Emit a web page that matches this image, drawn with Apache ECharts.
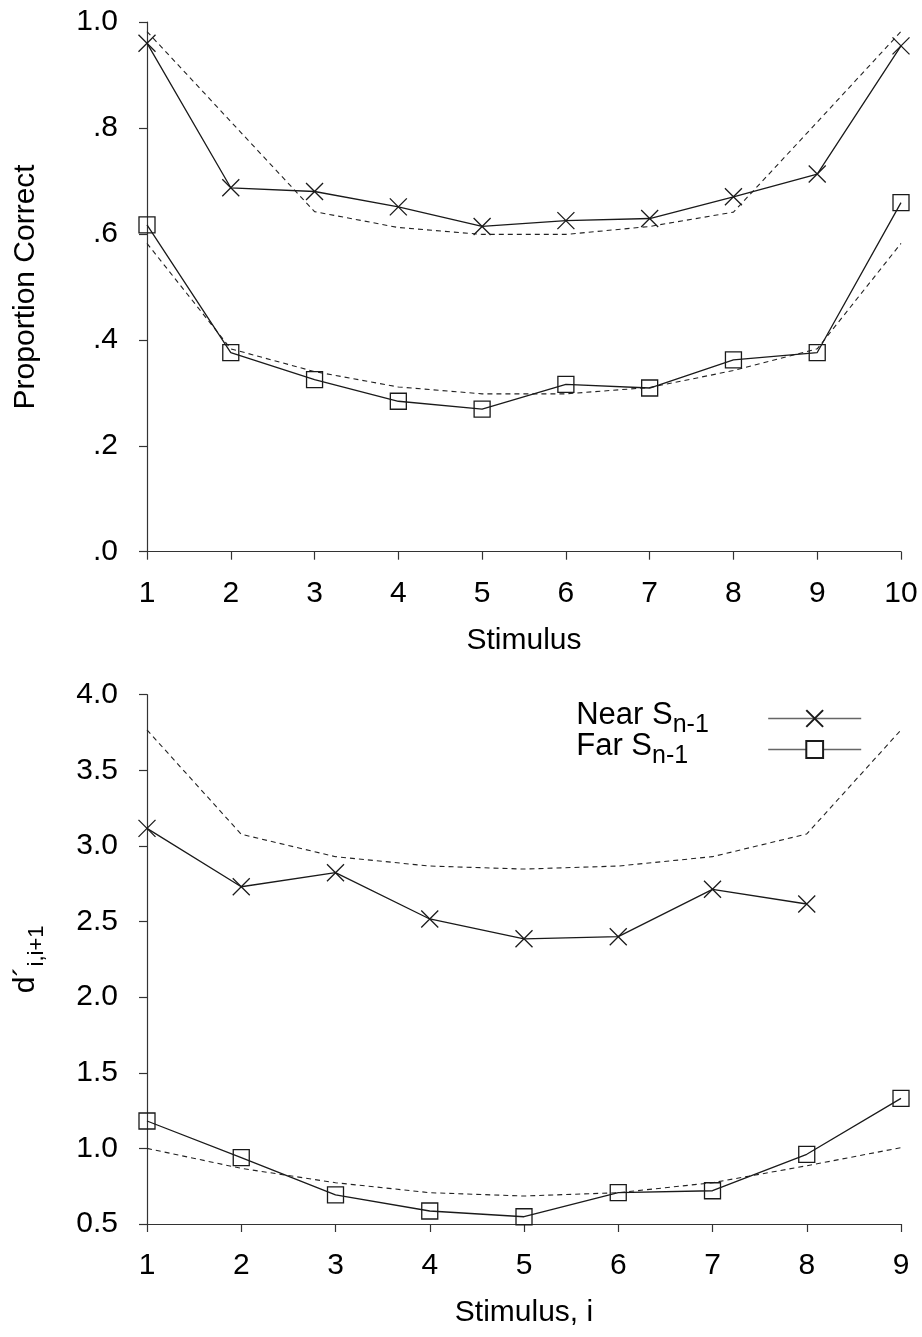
<!DOCTYPE html>
<html>
<head>
<meta charset="utf-8">
<script src="https://cdn.jsdelivr.net/npm/echarts@6/dist/echarts.min.js"></script>
<style>
html,body{margin:0;padding:0;background:#fff;}
#chart{width:922px;height:1337px;}
</style>
</head>
<body>
<div id="chart"></div>
<script>
// ---------- data ----------
const stimTop = [1, 2, 3, 4, 5, 6, 7, 8, 9, 10];
const nearTop = [0.960, 0.687, 0.680, 0.651, 0.614, 0.625, 0.629, 0.670, 0.713, 0.955];
const nearTopModel = [0.982, 0.812, 0.642, 0.612, 0.599, 0.599, 0.614, 0.641, 0.811, 0.982];
const farTop = [0.617, 0.376, 0.325, 0.284, 0.269, 0.316, 0.309, 0.362, 0.376, 0.659];
const farTopModel = [0.582, 0.383, 0.340, 0.311, 0.298, 0.298, 0.310, 0.342, 0.383, 0.582];
const topYLabels = ['.0', '.2', '.4', '.6', '.8', '1.0'];

const stimBottom = [1, 2, 3, 4, 5, 6, 7, 8, 9];
const nearBottom = [3.116, 2.730, 2.823, 2.517, 2.386, 2.400, 2.713, 2.616];
const nearBottomModel = [3.767, 3.077, 2.929, 2.867, 2.847, 2.867, 2.929, 3.079, 3.767];
const farBottom = [1.181, 0.939, 0.692, 0.586, 0.548, 0.707, 0.720, 0.961, 1.331];
const farBottomModel = [1.000, 0.868, 0.773, 0.707, 0.685, 0.707, 0.773, 0.885, 1.005];

const seriesNames = ['Near', 'Far'];
const legendSub = 'n-1';
const topXName = 'Stimulus';
const topYName = 'Proportion Correct';
const bottomXName = 'Stimulus, i';
const bottomYMain = 'd\u00B4';
const bottomYSub = 'i,i+1';

// ---------- helpers ----------
const FONT = "'Liberation Sans', Arial, Helvetica, sans-serif";
const INK = '#1a1a1a';
const AXIS = '#333';
const pairs = (xs, ys) => ys.map((y, i) => [xs[i], y]);
const crossPath = 'path://M0,0L10,10M10,0L0,10';

function axisCommon() {
  return {
    axisLine: { show: true, lineStyle: { color: AXIS, width: 1.2 } },
    axisTick: { show: true, inside: false, length: 8, lineStyle: { color: AXIS, width: 1.2 } },
    splitLine: { show: false },
    axisLabel: { color: '#000', fontSize: 30, fontFamily: FONT },
    nameTextStyle: { color: '#000', fontSize: 30, fontFamily: FONT },
  };
}

function dataSeries(name, xi, yi, xs, ys, symbol, size) {
  return {
    name: name, type: 'line', xAxisIndex: xi, yAxisIndex: yi,
    data: pairs(xs, ys),
    symbol: symbol, symbolSize: size, symbolKeepAspect: true,
    showSymbol: true,
    lineStyle: { color: INK, width: 1.3, type: 'solid' },
    itemStyle: { color: 'none', borderColor: INK, borderWidth: 1.3 },
    emphasis: { disabled: true }, silent: true, animation: false, z: 3
  };
}
function modelSeries(xi, yi, xs, ys) {
  return {
    type: 'line', xAxisIndex: xi, yAxisIndex: yi,
    data: pairs(xs, ys), symbol: 'none',
    lineStyle: { color: '#222', width: 1.1, type: [5, 4] },
    emphasis: { disabled: true }, silent: true, animation: false, z: 2
  };
}

const chart = echarts.init(document.getElementById('chart'), null, { renderer: 'canvas' });

const option = {
  backgroundColor: '#fff',
  animation: false,
  grid: [
    { left: 147, right: 21, top: 22, height: 529.7 },
    { left: 147, right: 21, top: 694.7, height: 529.3 }
  ],
  xAxis: [
    Object.assign(axisCommon(), {
      type: 'value', gridIndex: 0, min: 1, max: 10, interval: 1,
      name: topXName, nameLocation: 'middle', nameGap: 74
    }),
    Object.assign(axisCommon(), {
      type: 'value', gridIndex: 1, min: 1, max: 9, interval: 1,
      name: bottomXName, nameLocation: 'middle', nameGap: 74
    })
  ],
  yAxis: [
    Object.assign(axisCommon(), {
      type: 'value', gridIndex: 0, min: 0, max: 1, interval: 0.2,
      name: topYName, nameLocation: 'middle', nameGap: 106
    }),
    Object.assign(axisCommon(), {
      type: 'value', gridIndex: 1, min: 0.5, max: 4, interval: 0.5,
      name: '{d|' + bottomYMain + '}{s|' + bottomYSub + '}', nameLocation: 'middle', nameGap: 98
    })
  ],
  legend: {
    show: true,
    data: seriesNames,
    orient: 'vertical',
    right: 60, top: 700,
    padding: 0,
    align: 'right',
    itemWidth: 93, itemHeight: 21, itemGap: -7,
    lineStyle: { color: '#666', width: 1.6 },
    itemStyle: { color: '#fff' },
    selectedMode: false,
    formatter: function (name) { return '{m|' + name + ' S}{s|' + legendSub + '}'; },
    textStyle: {
      color: '#000', fontFamily: FONT, fontSize: 31, width: 187,
      rich: {
        m: { fontSize: 31, fontFamily: FONT, color: '#000', padding: [0, 0, 6, 0], align: 'left' },
        s: { fontSize: 25, fontFamily: FONT, color: '#000', padding: [14, 0, 0, 0], align: 'left' }
      }
    }
  },
  series: [
    modelSeries(0, 0, stimTop, nearTopModel),
    modelSeries(0, 0, stimTop, farTopModel),
    dataSeries('Near', 0, 0, stimTop, nearTop, crossPath, 17),
    dataSeries('Far', 0, 0, stimTop, farTop, 'rect', 16),
    modelSeries(1, 1, stimBottom, nearBottomModel),
    modelSeries(1, 1, stimBottom, farBottomModel),
    dataSeries('Near', 1, 1, stimBottom, nearBottom, crossPath, 17),
    dataSeries('Far', 1, 1, stimBottom, farBottom, 'rect', 16)
  ]
};

// axis label formats
option.xAxis.forEach(a => { a.axisLabel.margin = 27; });
option.yAxis.forEach(a => { a.axisLabel.margin = 29; });
option.yAxis[0].axisLabel.formatter = v => topYLabels[Math.round(v / 0.2)];
option.yAxis[1].axisLabel.formatter = v => v.toFixed(1);
option.yAxis[1].nameTextStyle.rich = {
  d: { fontSize: 30, fontFamily: FONT, color: '#000', padding: [0, 0, 8, 0] },
  s: { fontSize: 22, fontFamily: FONT, color: '#000', padding: [13, 0, 0, 0] }
};

chart.setOption(option);
</script>
</body>
</html>
